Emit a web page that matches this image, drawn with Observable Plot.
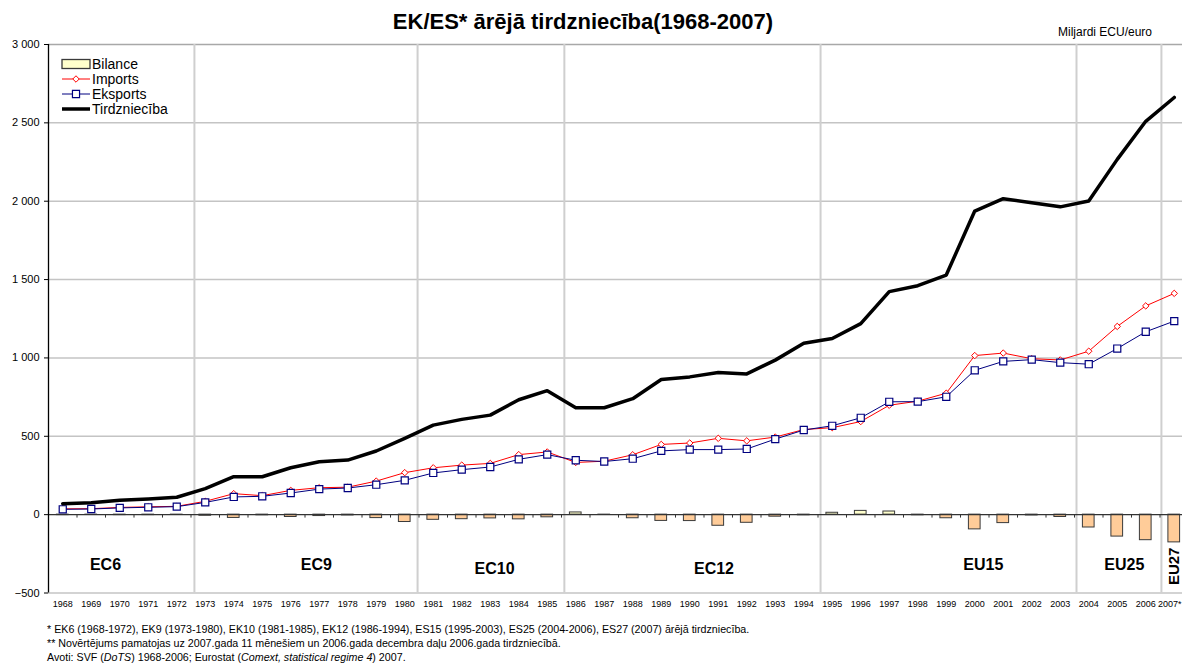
<!DOCTYPE html>
<html>
<head>
<meta charset="utf-8">
<script src="https://cdn.jsdelivr.net/npm/d3@7"></script>
<script src="https://cdn.jsdelivr.net/npm/@observablehq/plot@0.6"></script>
<style>
html, body { margin: 0; padding: 0; background: #fff; overflow: hidden; }
#wrap { position: relative; width: 1182px; height: 669px; overflow: hidden; font-family: "Liberation Sans", Arial, sans-serif; color: #000; }
#title { position: absolute; left: 0; top: 8px; width: 1166px; text-align: center; font-size: 22px; font-weight: bold; line-height: 28px; }
#unit { position: absolute; left: 1058px; top: 25px; font-size: 12px; line-height: 15px; }
#chart { position: absolute; left: 0; top: 0; width: 1188px; }
#chart svg { max-width: none !important; }
#legend { position: absolute; left: 0; top: 0; }
#notes { position: absolute; left: 47px; top: 622px; font-size: 10.7px; line-height: 14px; white-space: nowrap; }
</style>
</head>
<body>
<div id="wrap">
  <div id="chart"></div>
  <div id="title">EK/ES* ārējā tirdzniecība(1968-2007)</div>
  <div id="unit">Miljardi ECU/euro</div>
  <svg id="legend" width="200" height="125"></svg>
  <div id="notes">
    <div>* EK6 (1968-1972), EK9 (1973-1980), EK10 (1981-1985), EK12 (1986-1994), ES15 (1995-2003), ES25 (2004-2006), ES27 (2007) ārējā tirdzniecība.</div>
    <div>** Novērtējums pamatojas uz 2007.gada 11 mēnešiem un 2006.gada decembra daļu 2006.gada tirdzniecībā.</div>
    <div>Avoti: SVF (<i>DoTS</i>) 1968-2006; Eurostat (<i>Comext, statistical regime 4</i>) 2007.</div>
  </div>
</div>
<script>
// ---- Data (billions ECU/euro) ----
const years = [1968,1969,1970,1971,1972,1973,1974,1975,1976,1977,1978,1979,1980,1981,1982,1983,1984,1985,1986,1987,1988,1989,1990,1991,1992,1993,1994,1995,1996,1997,1998,1999,2000,2001,2002,2003,2004,2005,2006,2007];
const yearLabels = ["1968","1969","1970","1971","1972","1973","1974","1975","1976","1977","1978","1979","1980","1981","1982","1983","1984","1985","1986","1987","1988","1989","1990","1991","1992","1993","1994","1995","1996","1997","1998","1999","2000","2001","2002","2003","2004","2005","2006","2007*"];
const importsV = [37,38,46,50,53,85,134,121,155,172,175,214,268,299,316,327,383,400,333,341,382,448,457,487,471,495,543,555,594,698,724,775,1015,1031,995,987,1043,1201,1332,1412];
const exportsV = [34,36,43,47,51,78,113,117,138,163,170,191,219,266,287,304,353,383,347,339,357,407,415,415,419,482,540,567,618,720,721,752,921,978,989,970,960,1060,1167,1235];
const tradeV = [70,76,92,100,111,166,242,242,299,338,348,406,487,571,608,635,733,791,682,682,740,862,879,907,898,986,1094,1124,1219,1423,1461,1529,1937,2016,1990,1964,2001,2267,2510,2662];
const balanceV = [-3,-2,-3,-3,-2,-7,-21,-4,-15,-9,-5,-22,-47,-33,-29,-24,-30,-17,14,-2,-23,-40,-41,-71,-52,-13,-4,12,24,20,-4,-23,-94,-54,-5,-15,-82,-140,-163,-177];
const eraLabels = ["EC6","EC9","EC10","EC12","EU15","EU25","EU27"];
const eraLabelYear = [1969.5,1976.9,1983.15,1990.85,2000.3,2005.25,2007];
const eraLabelValue = [-322,-322,-346,-346,-322,-322,-330];
const eraBoundaries = [1972.62,1980.45,1985.6,1994.59,2003.57,2006.55];
const yTicks = [-500,0,500,1000,1500,2000,2500,3000];
const seriesNames = ["Bilance","Imports","Eksports","Tirdzniecība"];

// ---- Build tables ----
const rows = years.map((year, i) => ({year, label: yearLabels[i], imports: importsV[i], exports: exportsV[i], trade: tradeV[i], balance: balanceV[i]}));
const eras = eraLabels.map((label, i) => ({label, x: eraLabelYear[i], y: eraLabelValue[i]}));
const xDomain = [years[0] - 0.5, years[years.length - 1] + 0.5];
const catEdges = [xDomain[0], ...years.map(y => y + 0.5)];
const fmt = d => d3.format(",")(d).replace(/,/g, " ");
const lastYear = years[years.length - 1];

const FONT = "'Liberation Sans', Arial, sans-serif";
const chart = Plot.plot({
  width: 1188,
  height: 620,
  marginLeft: 48,
  marginRight: 0,
  marginTop: 44,
  marginBottom: 27.5,
  x: {type: "linear", domain: xDomain, axis: null},
  y: {domain: [yTicks[0], yTicks[yTicks.length - 1]]},
  style: {fontFamily: FONT, fontSize: "10px", background: "transparent", color: "#000", overflow: "visible", maxWidth: "none"},
  marks: [
    Plot.ruleY(yTicks.filter(v => v !== 0 && v !== yTicks[yTicks.length - 1]), {stroke: "#c4c4c4", strokeWidth: 1.5}),
    Plot.ruleY([yTicks[yTicks.length - 1]], {stroke: "#a8a8a8", strokeWidth: 1.5}),
    Plot.ruleX(eraBoundaries, {stroke: "#cfcfcf", strokeWidth: 2}),
    Plot.rectY(rows.filter(d => d.balance < 0), {x1: d => d.year - 0.5, x2: d => d.year + 0.5, y1: 0, y2: "balance", fill: "#FFCC99", stroke: "#3a3a3a", strokeWidth: 1, insetLeft: 8.4, insetRight: 8.4}),
    Plot.rectY(rows.filter(d => d.balance >= 0), {x1: d => d.year - 0.5, x2: d => d.year + 0.5, y1: 0, y2: "balance", fill: "#FFFFCC", stroke: "#3a3a3a", strokeWidth: 1, insetLeft: 8.4, insetRight: 8.4}),
    Plot.ruleY([0], {stroke: "#333", strokeWidth: 1.3}),
    Plot.ruleX(catEdges, {x: d => d, y1: 0, y2: -22, stroke: "#333", strokeWidth: 1}),
    Plot.line(rows, {x: "year", y: "imports", stroke: "#ff0000", strokeWidth: 1}),
    Plot.dot(rows, {x: "year", y: "imports", symbol: "diamond2", r: 2.9, stroke: "#ff0000", fill: "white", strokeWidth: 1}),
    Plot.line(rows, {x: "year", y: "exports", stroke: "#000080", strokeWidth: 1}),
    Plot.dot(rows, {x: "year", y: "exports", symbol: "square", r: 4, stroke: "#000080", fill: "white", strokeWidth: 1.2}),
    Plot.line(rows, {x: "year", y: "trade", stroke: "#000", strokeWidth: 3.5}),
    Plot.text(eras.filter(d => d.label !== "EU27"), {x: "x", y: "y", text: "label", fontSize: 16, fontWeight: "bold", fill: "#000"}),
    Plot.text(eras.filter(d => d.label === "EU27"), {x: "x", y: "y", text: "label", fontSize: 15, fontWeight: "bold", fill: "#000", rotate: -90}),
    Plot.axisY({ticks: yTicks, tickFormat: fmt, tickSize: 4, tickPadding: 5, fontSize: 11, label: null, stroke: "#000"}),
    // category labels under the plot
    Plot.text(rows.filter(d => d.year !== lastYear), {x: "year", text: "label", frameAnchor: "bottom", dy: 13.5, fontSize: 9, fill: "#000"}),
    Plot.text(rows.filter(d => d.year === lastYear), {x: d => d.year + 0.5, text: "label", frameAnchor: "bottom", dy: 13.5, dx: -7, textAnchor: "end", fontSize: 9, fill: "#000"}),
    Plot.ruleX([xDomain[0]], {stroke: "#000", strokeWidth: 1.3})
  ]
});
document.getElementById("chart").appendChild(chart);

// ---- Legend ----
const lg = d3.select("#legend");
const lx0 = 62, lx1 = 90, tx = 92, ly = [64, 79, 94, 109];
lg.append("rect").attr("x", lx0).attr("y", ly[0] - 4.5).attr("width", lx1 - lx0).attr("height", 9)
  .attr("fill", "#FFFFCC").attr("stroke", "#3a3a3a").attr("stroke-width", 1.3);
lg.append("line").attr("x1", lx0).attr("x2", lx1).attr("y1", ly[1]).attr("y2", ly[1]).attr("stroke", "#ff0000");
lg.append("path").attr("d", d3.symbol(d3.symbolDiamond2, Math.PI * 2.9 * 2.9)()).attr("transform", `translate(${(lx0 + lx1) / 2},${ly[1]})`)
  .attr("fill", "white").attr("stroke", "#ff0000");
lg.append("line").attr("x1", lx0).attr("x2", lx1).attr("y1", ly[2]).attr("y2", ly[2]).attr("stroke", "#000080");
lg.append("path").attr("d", d3.symbol(d3.symbolSquare, Math.PI * 16)()).attr("transform", `translate(${(lx0 + lx1) / 2},${ly[2]})`)
  .attr("fill", "white").attr("stroke", "#000080").attr("stroke-width", 1.2);
lg.append("line").attr("x1", lx0).attr("x2", lx1).attr("y1", ly[3]).attr("y2", ly[3]).attr("stroke", "#000").attr("stroke-width", 3.5);
seriesNames.forEach((name, i) => {
  lg.append("text").attr("x", tx).attr("y", ly[i]).attr("dy", "0.35em").attr("font-size", 14)
    .attr("font-family", FONT).attr("fill", "#000").text(name);
});
</script>
</body>
</html>
